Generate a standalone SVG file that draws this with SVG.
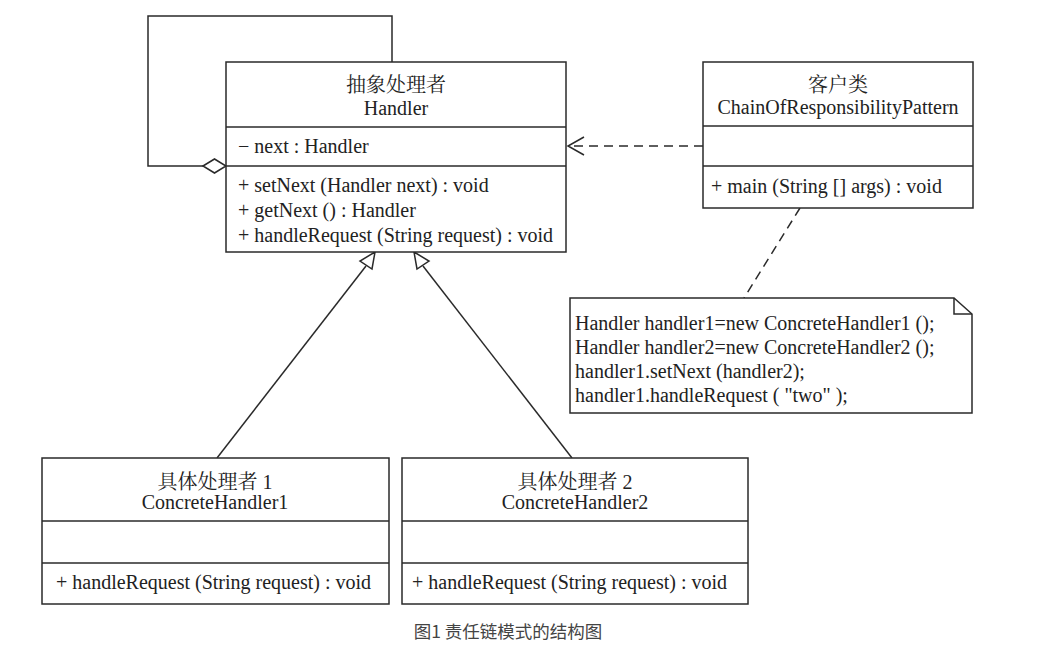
<svg xmlns="http://www.w3.org/2000/svg" width="1041" height="658" viewBox="0 0 1041 658">
<style>
.box{fill:#fff;stroke:#2a2a2a;stroke-width:1.5}
.ln{fill:none;stroke:#2a2a2a;stroke-width:1.5}
.dash{fill:none;stroke:#2a2a2a;stroke-width:1.5;stroke-dasharray:9,6}
.t{font-family:"Liberation Serif","Noto Serif CJK SC","Noto Sans CJK SC",serif;font-size:20px;fill:#222}
.c{text-anchor:middle}
.cap{font-family:"Noto Sans CJK SC","Liberation Sans",sans-serif;font-size:17.5px;fill:#444;text-anchor:middle}
</style>
<rect width="1041" height="658" fill="#fff"/>
<g id="connectors">
  <polyline class="ln" points="392,62 392,16 148,16 148,166 203,166"/>
  <polygon class="ln" fill="#fff" points="203,166 214.5,159 226,166 214.5,173"/>
  <line class="dash" x1="703" y1="146" x2="570" y2="146"/>
  <polyline class="ln" points="584,137 568,146 584,155"/>
  <line class="dash" x1="800" y1="208" x2="744" y2="298"/>
  <line class="ln" x1="217" y1="458" x2="366" y2="266"/>
  <polygon class="ln" fill="#fff" points="375,252 372,269 360,261"/>
  <line class="ln" x1="572" y1="458" x2="423" y2="266"/>
  <polygon class="ln" fill="#fff" points="414,252 429,261 417,269"/>
</g>
<g id="handler">
  <rect class="box" x="226" y="62" width="340" height="190"/>
  <line class="ln" x1="226" y1="127" x2="566" y2="127"/>
  <line class="ln" x1="226" y1="166" x2="566" y2="166"/>
  <text class="t c" x="396" y="92">抽象处理者</text>
  <text class="t c" x="396" y="115">Handler</text>
  <text class="t" x="238" y="153">− next : Handler</text>
  <text class="t" x="238" y="192">+ setNext (Handler next) : void</text>
  <text class="t" x="238" y="217">+ getNext () : Handler</text>
  <text class="t" x="238" y="242">+ handleRequest (String request) : void</text>
</g>
<g id="client">
  <rect class="box" x="703" y="62" width="270" height="146"/>
  <line class="ln" x1="703" y1="126" x2="973" y2="126"/>
  <line class="ln" x1="703" y1="166" x2="973" y2="166"/>
  <text class="t c" x="838" y="92">客户类</text>
  <text class="t c" x="838" y="114">ChainOfResponsibilityPattern</text>
  <text class="t" x="711" y="193">+ main (String [] args) : void</text>
</g>
<g id="note">
  <polygon class="box" points="570,298 954,298 972,314 972,413 570,413"/>
  <polyline class="ln" points="954,298 954,314 972,314"/>
  <text class="t" x="575" y="330">Handler handler1=new ConcreteHandler1 ();</text>
  <text class="t" x="575" y="354">Handler handler2=new ConcreteHandler2 ();</text>
  <text class="t" x="575" y="378">handler1.setNext (handler2);</text>
  <text class="t" x="575" y="402">handler1.handleRequest (  "two"  );</text>
</g>
<g id="concrete1">
  <rect class="box" x="42" y="458" width="347" height="146"/>
  <line class="ln" x1="42" y1="521" x2="389" y2="521"/>
  <line class="ln" x1="42" y1="563" x2="389" y2="563"/>
  <text class="t c" x="215" y="489">具体处理者 1</text>
  <text class="t c" x="215" y="509">ConcreteHandler1</text>
  <text class="t" x="56" y="589">+ handleRequest (String request) : void</text>
</g>
<g id="concrete2">
  <rect class="box" x="402" y="458" width="346" height="146"/>
  <line class="ln" x1="402" y1="521" x2="748" y2="521"/>
  <line class="ln" x1="402" y1="563" x2="748" y2="563"/>
  <text class="t c" x="575" y="489">具体处理者 2</text>
  <text class="t c" x="575" y="509">ConcreteHandler2</text>
  <text class="t" x="412" y="589">+ handleRequest (String request) : void</text>
</g>
<text class="cap" x="508" y="638">图1 责任链模式的结构图</text>
</svg>
